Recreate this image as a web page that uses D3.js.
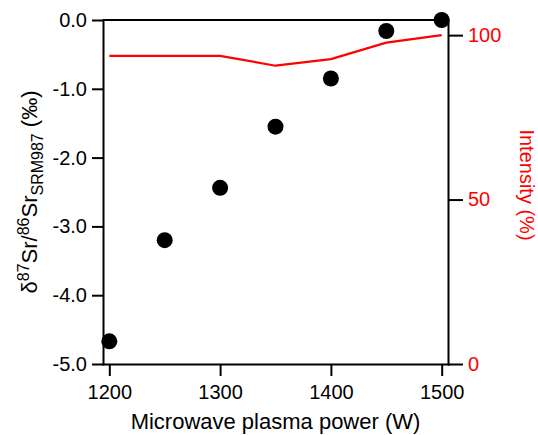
<!DOCTYPE html>
<html>
<head>
<meta charset="utf-8">
<script src="https://cdn.jsdelivr.net/npm/d3@7"></script>
<style>
  body { margin: 0; background: #fff; }
  svg { display: block; font-family: "Liberation Sans", Arial, sans-serif; }
  .axis path, .axis line { stroke: #000; stroke-width: 2; }
  .axis text { font-size: 20px; fill: #000; }
  .axis.right text { fill: #f00; }
</style>
</head>
<body>
<svg class="chart"></svg>
<script>
const margin = {top: 20, right: 90, bottom: 71, left: 103},
      width = 538 - margin.left - margin.right,   // 345
      height = 435 - margin.top - margin.bottom;  // 344

// data
const power = [1200, 1250, 1300, 1350, 1400, 1450, 1500];
const delta = [-4.67, -3.20, -2.44, -1.55, -0.85, -0.16, 0.0];
const intensity = [93.7, 93.7, 93.7, 90.7, 92.7, 97.7, 100];

const xTicks = [1200, 1300, 1400, 1500];
const yTicks = [-5, -4, -3, -2, -1, 0];
const y2Ticks = [0, 50, 100];

let x = d3.scaleLinear()
          .domain([1194.3, 1505.7])
          .range([0, width]);

let y = d3.scaleLinear()
          .domain([-5, 0])
          .range([height, 0]);

let y2 = d3.scaleLinear()
           .domain([0, 104.6])
           .range([height, 0]);

let svg = d3.select(".chart")
            .attr("width", 538)
            .attr("height", 435);

let chart = svg.append("g")
               .attr("transform", "translate(" + margin.left + "," + margin.top + ")");

// top frame line
chart.append("line")
     .attr("x1", 0).attr("x2", width)
     .attr("y1", 0).attr("y2", 0)
     .attr("stroke", "#000")
     .attr("stroke-width", 2);

// x axis
chart.append("g")
     .attr("class", "axis bottom")
     .attr("transform", "translate(0," + height + ")")
     .call(d3.axisBottom(x).tickValues(xTicks).tickSize(12).tickSizeOuter(0).tickPadding(9)
             .tickFormat(d3.format("d")));

// left axis
chart.append("g")
     .attr("class", "axis left")
     .call(d3.axisLeft(y).tickValues(yTicks).tickSize(11).tickSizeOuter(0).tickPadding(5)
             .tickFormat((d) => { return d.toFixed(1); }));

// right axis
chart.append("g")
     .attr("class", "axis right")
     .attr("transform", "translate(" + width + ",0)")
     .call(d3.axisRight(y2).tickValues(y2Ticks).tickSize(15).tickSizeOuter(0).tickPadding(5));

chart.selectAll(".axis .domain").attr("stroke-linecap", "square");

// intensity line
let line = d3.line()
             .x((d, i) => { return x(power[i]); })
             .y((d) => { return y2(d); });

chart.append("path")
     .datum(intensity)
     .attr("d", line)
     .attr("fill", "none")
     .attr("stroke", "#f00")
     .attr("stroke-width", 2.2);

// delta points
chart.selectAll(".dot")
     .data(delta)
     .enter().append("circle")
     .attr("class", "dot")
     .attr("cx", (d, i) => { return x(power[i]); })
     .attr("cy", (d) => { return y(d); })
     .attr("r", 8)
     .attr("fill", "#000");

// x label
svg.append("text")
   .attr("x", margin.left + width / 2)
   .attr("y", 429)
   .attr("text-anchor", "middle")
   .style("font-size", "22px")
   .text("Microwave plasma power (W)");

// left label with super/subscripts
let yLabel = svg.append("text")
                .attr("transform", "translate(37," + (margin.top + height / 2) + ") rotate(-90)")
                .attr("text-anchor", "middle")
                .style("font-size", "22px");
yLabel.append("tspan").text("δ");
yLabel.append("tspan").attr("dy", -8).style("font-size", "16px").text("87");
yLabel.append("tspan").attr("dy", 8).text("Sr/");
yLabel.append("tspan").attr("dy", -8).style("font-size", "16px").text("86");
yLabel.append("tspan").attr("dy", 8).text("Sr");
yLabel.append("tspan").attr("dy", 6).style("font-size", "16px").text("SRM987");
yLabel.append("tspan").attr("dy", -6).text(" (‰)");

// right label
svg.append("text")
   .attr("transform", "translate(520,185) rotate(90)")
   .attr("text-anchor", "middle")
   .attr("fill", "#f00")
   .style("font-size", "20px")
   .text("Intensity (%)");
</script>
</body>
</html>
